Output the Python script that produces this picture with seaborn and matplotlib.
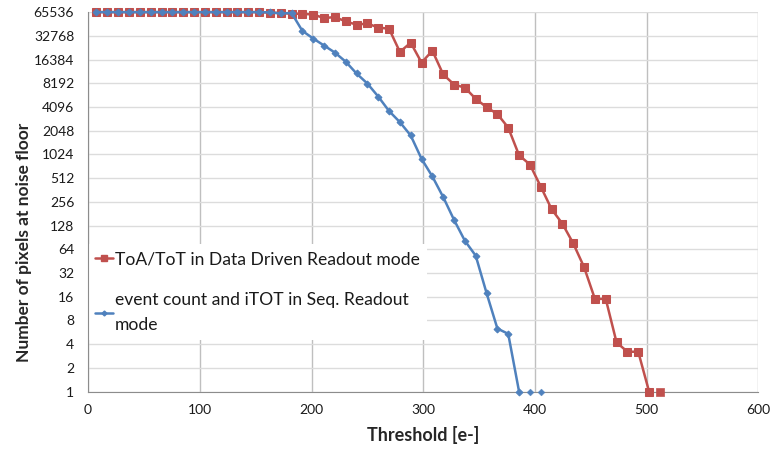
import pandas as pd
import seaborn as sns
import matplotlib.pyplot as plt
from matplotlib.lines import Line2D

# Threshold steps (e-)
threshold = [
    7.5, 17.2, 26.9, 36.6, 46.3, 56.0, 65.7, 75.4, 85.1, 94.8,
    104.5, 114.2, 123.9, 133.6, 143.3, 153.0, 162.7, 172.4, 182.1, 191.8,
    201.5, 211.2, 220.9, 230.6, 240.3, 250.0, 259.7, 269.4, 279.1, 288.8,
    298.5, 308.2, 317.9, 327.6, 337.3, 347.0, 356.7, 366.4, 376.1, 385.8,
    395.5, 405.2, 414.9, 424.6, 434.3, 444.0, 453.7, 463.4, 473.1, 482.8,
    492.5, 502.2, 511.9,
]

# ToA/ToT in Data Driven Readout mode
ddr_pixels = [
    65536, 65536, 65536, 65536, 65536, 65536, 65536, 65536, 65536, 65536,
    65536, 65536, 65536, 65536, 65536, 65536, 64500, 64000, 62500, 62400,
    61100, 55100, 56700, 50000, 45400, 47000, 41800, 40300, 20500, 26800,
    15000, 21200, 10600, 7900, 7200, 5200, 4070, 3330, 2240, 1000,
    762, 400, 207, 135, 76, 38, 15, 15, 4.2, 3.2,
    3.2, 1, 1,
]

# event count and iTOT in Seq. Readout mode
seq_pixels = [
    65536, 65536, 65536, 65536, 65536, 65536, 65536, 65536, 65536, 65536,
    65536, 65536, 65536, 65536, 65536, 65536, 65000, 63000, 64000, 37900,
    30300, 24700, 20100, 15400, 10900, 8130, 5560, 3640, 2630, 1780,
    900, 537, 294, 151, 82, 53, 17.8, 6.3, 5.4, 1,
    1, 1,
]

labels = ["ToA/ToT in Data Driven Readout mode",
          "event count and iTOT in Seq. Readout\nmode"]
red = "#C0504D"
blue = "#4F81BD"

ddr = pd.DataFrame({"x": threshold[:len(ddr_pixels)], "y": ddr_pixels})
seq = pd.DataFrame({"x": threshold[:len(seq_pixels)], "y": seq_pixels})

sns.set_style("white")
plt.rcParams["font.family"] = ["Lato", "DejaVu Sans"]

fig, ax = plt.subplots(figsize=(7.73, 4.49), dpi=100)
fig.subplots_adjust(left=0.114, right=0.981, top=0.973, bottom=0.128)

# lines run down to the first point at the floor; later floor points are markers only
for df, color, marker, ms in [(ddr, red, "s", 6), (seq, blue, "D", 3.5)]:
    cut = df["y"].tolist().index(1) + 1
    sns.lineplot(data=df.iloc[:cut], x="x", y="y", ax=ax, color=color, lw=1.8,
                 marker=marker, markersize=ms, markeredgecolor=color,
                 clip_on=False, zorder=3)
    sns.scatterplot(data=df.iloc[cut:], x="x", y="y", ax=ax, color=color,
                    marker=marker, s=ms ** 2, edgecolor=color,
                    clip_on=False, zorder=3)

ax.set_yscale("log", base=2)
yticks = [2 ** i for i in range(17)]
ax.set_yticks(yticks)
ax.set_yticklabels([str(v) for v in yticks])
ax.minorticks_off()
ax.set_ylim(1, 65536)
ax.set_xlim(0, 600)
ax.set_xticks(range(0, 601, 100))

ax.grid(axis="y", color="#dcdcdc", lw=1)
ax.grid(axis="x", color="#bfbfbf", lw=1)
ax.set_axisbelow(True)
for side in ["top", "right"]:
    ax.spines[side].set_visible(False)
for side in ["left", "bottom"]:
    ax.spines[side].set_color("#8c8c8c")
ax.tick_params(axis="y", direction="out", length=6, color="#8c8c8c",
               labelsize=10, labelcolor="#1a1a1a", pad=4)
ax.tick_params(axis="x", direction="inout", length=10, color="#8c8c8c",
               labelsize=10, labelcolor="#1a1a1a", pad=4)

ax.set_xlabel("Threshold [e-]", fontsize=13, fontweight="bold", labelpad=7)
ax.set_ylabel("Number of pixels at noise floor", fontsize=12.5,
              fontweight="bold")
ax.yaxis.set_label_coords(-0.084, 0.392)

handles = [
    Line2D([], [], color=red, lw=1.8, marker="s", markersize=4),
    Line2D([], [], color=blue, lw=1.8, marker="D", markersize=2.5),
]
leg = ax.legend(handles, labels, loc="lower left", bbox_to_anchor=(0.0, 0.135),
                borderaxespad=0, fontsize=12.6, frameon=True, fancybox=False,
                handlelength=1.0, handletextpad=0.15, labelspacing=1.4,
                borderpad=0.4)
leg.get_frame().set_facecolor("white")
leg.get_frame().set_edgecolor("none")
leg.get_frame().set_alpha(1)
leg.set_zorder(2)
for t in leg.get_texts():
    t.set_color("#1a1a1a")
    t.set_linespacing(1.75)

fig.savefig("out.png", dpi=100)
